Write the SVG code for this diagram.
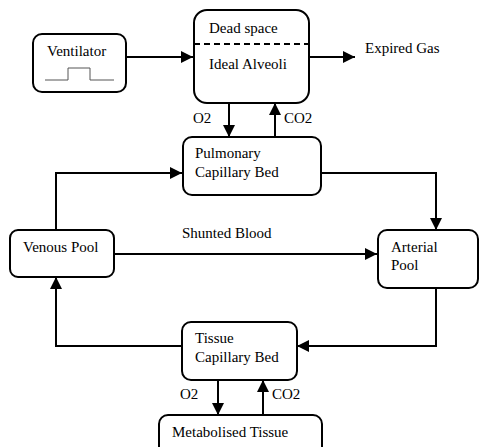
<svg xmlns="http://www.w3.org/2000/svg" width="480" height="447" viewBox="0 0 480 447">
<style>
.box{fill:#fff;stroke:#000;stroke-width:2}
.ln{fill:none;stroke:#000;stroke-width:2}
text{font-family:"Liberation Serif","Times New Roman",serif;font-size:15px;fill:#000}
</style>
<defs>
<marker id="ah" markerWidth="12" markerHeight="12" viewBox="0 0 12 12" refX="12" refY="6" orient="auto" markerUnits="userSpaceOnUse">
<path d="M0,0 L12,6 L0,12 Z" fill="#000"/>
</marker>
</defs>
<g id="connectors">
<path class="ln" d="M126,57 H193" marker-end="url(#ah)"/>
<path class="ln" d="M309,57 H355" marker-end="url(#ah)"/>
<path class="ln" d="M229,103 V137" marker-end="url(#ah)"/>
<path class="ln" d="M275,137 V103" marker-end="url(#ah)"/>
<path class="ln" d="M56,230 V173 H182" marker-end="url(#ah)"/>
<path class="ln" d="M321,173 H436 V230" marker-end="url(#ah)"/>
<path class="ln" d="M114,254 H377" marker-end="url(#ah)"/>
<path class="ln" d="M436,288 V346 H297" marker-end="url(#ah)"/>
<path class="ln" d="M182,346 H56 V277" marker-end="url(#ah)"/>
<path class="ln" d="M218,380 V415" marker-end="url(#ah)"/>
<path class="ln" d="M263,415 V380" marker-end="url(#ah)"/>
<text x="193" y="123">O2</text>
<text x="284" y="123">CO2</text>
<text x="182" y="238">Shunted Blood</text>
<text x="180" y="399">O2</text>
<text x="272" y="399">CO2</text>
<text x="365" y="53">Expired Gas</text>
</g>
<g id="ventilator">
<rect class="box" x="33" y="34" width="93" height="58" rx="9"/>
<text x="47" y="56">Ventilator</text>
<path d="M45,80 H68 V68 H90 V80 H114" fill="none" stroke="#555" stroke-width="1"/>
</g>
<g id="alveoli">
<rect class="box" x="194" y="10" width="115" height="93" rx="13"/>
<line x1="194" y1="44" x2="309" y2="44" stroke="#000" stroke-width="2" stroke-dasharray="6,4"/>
<text x="209" y="33">Dead space</text>
<text x="209" y="69">Ideal Alveoli</text>
</g>
<g id="pulmonary">
<rect class="box" x="183" y="137" width="138" height="58" rx="9"/>
<text x="195" y="158">Pulmonary</text>
<text x="195" y="177">Capillary Bed</text>
</g>
<g id="venous">
<rect class="box" x="10" y="230" width="104" height="47" rx="8"/>
<text x="23" y="252">Venous Pool</text>
</g>
<g id="arterial">
<rect class="box" x="378" y="230" width="100" height="58" rx="9"/>
<text x="391" y="252">Arterial</text>
<text x="391" y="270">Pool</text>
</g>
<g id="tissue">
<rect class="box" x="182" y="322" width="115" height="58" rx="9"/>
<text x="195" y="343">Tissue</text>
<text x="195" y="362">Capillary Bed</text>
</g>
<g id="metabolised">
<rect class="box" x="159" y="415" width="163" height="50" rx="9"/>
<text x="172" y="437">Metabolised Tissue</text>
</g>
</svg>
